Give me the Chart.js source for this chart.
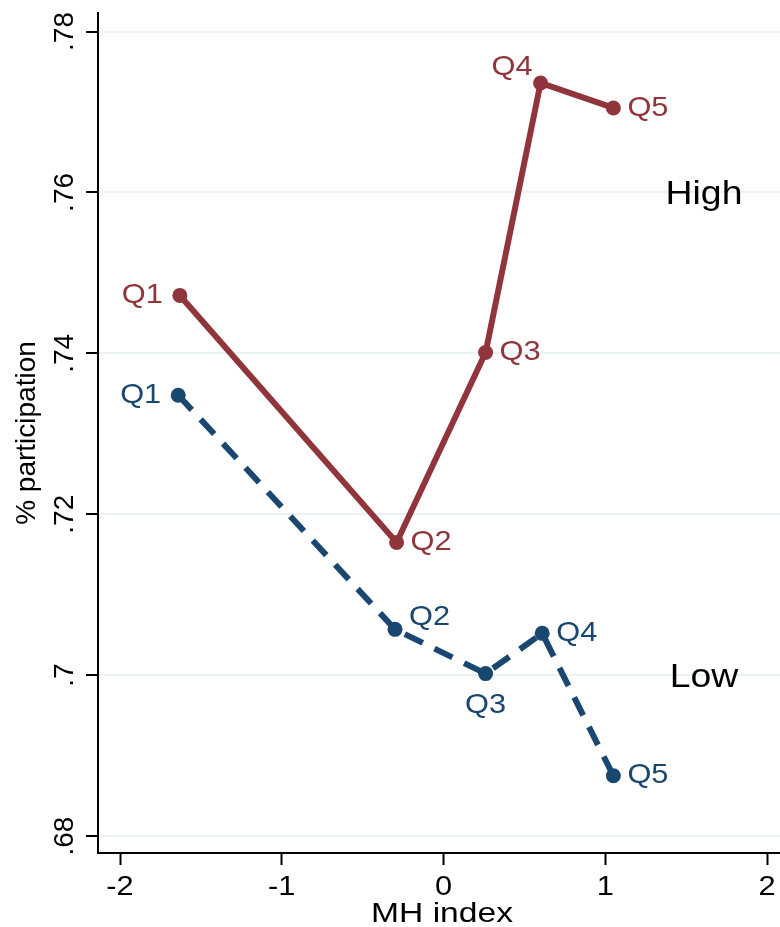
<!DOCTYPE html>
<html>
<head>
<meta charset="utf-8">
<script src="https://cdn.jsdelivr.net/npm/chart.js@4"></script>
<style>
body{margin:0;background:#fff;}
#wrap{width:780px;height:927px;}
</style>
</head>
<body>
<div id="wrap"><canvas id="chart" width="780" height="927"></canvas></div>
<script>
// data
const quintiles = ["Q1","Q2","Q3","Q4","Q5"];
const highX = [-1.63,-0.29,0.26,0.60,1.05];
const highY = [0.7472,0.7165,0.7401,0.7736,0.7705];
const lowX = [-1.64,-0.30,0.26,0.61,1.05];
const lowY = [0.7348,0.7057,0.7002,0.7052,0.6875];
const seriesNames = ["High","Low"];
const xTicks = [-2,-1,0,1,2];
const xTickLabels = ["-2","-1","0","1","2"];
const yTicks = [0.68,0.70,0.72,0.74,0.76,0.78];
const yTickLabels = [".68",".7",".72",".74",".76",".78"];

// where each Q label sits around its point
const highLabelPos = ["left","right","right","upleft","right"];
const lowLabelPos = ["left","upright","below","right","right"];
// line-end tags (data coords)
const tagX = [1.61,1.61];
const tagY = [0.76,0.70];

const RED = "#90353b";
const BLUE = "#1a476f";
const FONT = "'Liberation Sans', Arial, sans-serif";
const SX = 1.1; // the original's text is a bit wide

function pts(xs,ys){
    return xs.map((x,i)=>({x:x,y:ys[i]}));
}

function wideText(ctx,t,x,y,sx){
    ctx.save();
    ctx.translate(x,y);
    ctx.scale(sx,1);
    ctx.fillText(t,0,0);
    ctx.restore();
}

const labelPlugin = {
    id:"labels",
    afterDraw(chart){
        const ctx = chart.ctx;
        const ys = chart.scales.y;
        const xs = chart.scales.x;
        const area = chart.chartArea;
        ctx.save();
        ctx.fillStyle = "#000";

        // y tick labels, rotated like the original
        ctx.font = "28px "+FONT;
        ctx.textAlign = "center";
        ctx.textBaseline = "alphabetic";
        yTicks.forEach((v,i)=>{
            ctx.save();
            ctx.translate(73, ys.getPixelForValue(v));
            ctx.rotate(-Math.PI/2);
            ctx.fillText(yTickLabels[i],0,0);
            ctx.restore();
        });
        // y title
        ctx.save();
        ctx.translate(35,(area.top+area.bottom)/2);
        ctx.rotate(-Math.PI/2);
        ctx.fillText("% participation",0,0);
        ctx.restore();

        // x tick labels and title
        xTicks.forEach((v,i)=>{
            wideText(ctx,xTickLabels[i],xs.getPixelForValue(v),895,SX);
        });
        wideText(ctx,"MH index",(area.left+area.right)/2+3,922,1.2);

        // Q labels
        const sets = [[highLabelPos,RED],[lowLabelPos,BLUE]];
        chart.data.datasets.forEach((ds,di)=>{
            const meta = chart.getDatasetMeta(di);
            const pos = sets[di][0];
            ctx.fillStyle = sets[di][1];
            meta.data.forEach((el,i)=>{
                let x=el.x, y=el.y;
                const p = pos[i];
                if(p==="left"){ctx.textAlign="right";ctx.textBaseline="middle";x-=17;}
                else if(p==="right"){ctx.textAlign="left";ctx.textBaseline="middle";x+=14;}
                else if(p==="upleft"){ctx.textAlign="right";ctx.textBaseline="alphabetic";x-=8;y-=8;}
                else if(p==="upright"){ctx.textAlign="left";ctx.textBaseline="alphabetic";x+=14;y-=4;}
                else if(p==="below"){ctx.textAlign="center";ctx.textBaseline="top";y+=18;}
                wideText(ctx,quintiles[i],x,y,SX);
            });
        });

        // High / Low tags
        ctx.fillStyle="#000";
        ctx.font = "34px "+FONT;
        ctx.textAlign="center";
        ctx.textBaseline="middle";
        seriesNames.forEach((n,i)=>{
            wideText(ctx,n,xs.getPixelForValue(tagX[i]),ys.getPixelForValue(tagY[i])+2,SX);
        });
        ctx.restore();
    }
};

new Chart(document.getElementById("chart"),{
    type:"scatter",
    data:{
        datasets:[
            {label:seriesNames[0],data:pts(highX,highY),showLine:true,borderColor:RED,backgroundColor:RED,
             borderWidth:6,pointRadius:7.5,pointBorderWidth:0,pointBackgroundColor:RED},
            {label:seriesNames[1],data:pts(lowX,lowY),showLine:true,borderColor:BLUE,backgroundColor:BLUE,
             borderWidth:6,borderDash:[20,13],pointRadius:7.5,pointBorderWidth:0,pointBackgroundColor:BLUE}
        ]
    },
    options:{
        responsive:false,
        animation:false,
        layout:{autoPadding:false,padding:{top:13,right:0,left:0,bottom:0}},
        plugins:{legend:{display:false},tooltip:{enabled:false}},
        scales:{
            x:{
                type:"linear",min:-2.136,max:2.08,
                afterBuildTicks:s=>{s.ticks=xTicks.map(v=>({value:v}));},
                afterFit:s=>{s.height=74;s.paddingLeft=0;s.paddingRight=0;},
                grid:{drawOnChartArea:false,tickLength:12,tickColor:"#000",tickWidth:2},
                border:{color:"#000",width:2},
                ticks:{display:false}
            },
            y:{
                type:"linear",min:0.6779,max:0.7823,
                afterBuildTicks:s=>{s.ticks=yTicks.map(v=>({value:v}));},
                afterFit:s=>{s.width=98;s.paddingTop=0;s.paddingBottom=0;},
                grid:{color:"#eaf2f3",lineWidth:2,tickLength:12,tickColor:"#000",tickWidth:2},
                border:{color:"#000",width:2},
                ticks:{display:false}
            }
        }
    },
    plugins:[labelPlugin]
});
</script>
</body>
</html>
